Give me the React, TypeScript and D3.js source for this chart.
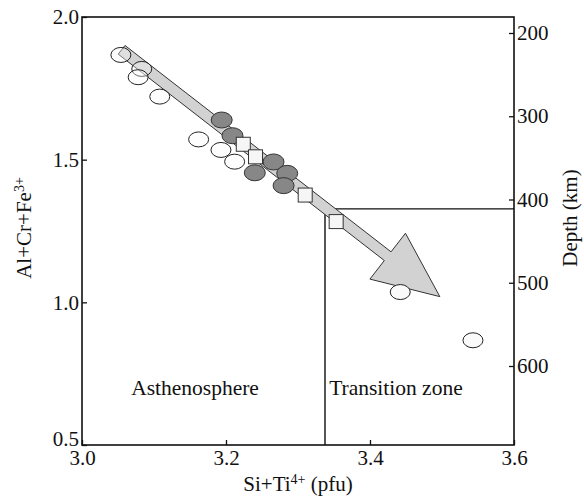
import React, { useEffect, useRef } from 'react'
import * as d3 from 'd3'

// values
const xTicks = [3.0, 3.2, 3.4, 3.6]
const yTicks = [0.5, 1.0, 1.5, 2.0]
const depthTicks = [200, 300, 400, 500, 600]

const openSi = [3.054, 3.083, 3.078, 3.108, 3.162, 3.193, 3.212, 3.442, 3.543]
const openAl = [1.867, 1.818, 1.789, 1.721, 1.571, 1.534, 1.493, 1.036, 0.867]

const graySi = [3.194, 3.209, 3.266, 3.240, 3.285, 3.280]
const grayAl = [1.639, 1.584, 1.492, 1.454, 1.452, 1.409]

const squareSi = [3.224, 3.241, 3.310, 3.353]
const squareAl = [1.554, 1.510, 1.376, 1.283]

// trend arrow, start and tip
const arrowSi = [3.055, 3.497]
const arrowAl = [1.885, 1.02]

// 410 km boundary
const boundarySi = 3.3375
const boundaryDepth = 410

export default function App() {
  const ref = useRef(null)

  useEffect(() => {
    document.body.style.margin = '0'
    const width = 584
    const height = 500
    const margin = { top: 17, right: 70, bottom: 55, left: 82 }
    const font = '"Liberation Serif", "Times New Roman", serif'

    const root = d3.select(ref.current)
    root.selectAll('*').remove()
    const svg = root.append('svg')
      .attr('width', width)
      .attr('height', height)
      .style('display', 'block')

    const x = d3.scaleLinear().domain([3.0, 3.6]).range([margin.left, width - margin.right])
    const y = d3.scaleLinear().domain([0.5, 2.0]).range([height - margin.bottom, margin.top])
    const depth = d3.scaleLinear().domain([200, 600]).range([33, 366])

    const styleAxis = g => {
      g.select('.domain').remove()
      g.attr('font-family', font).attr('font-size', 21)
      g.selectAll('.tick line').attr('stroke', '#111').attr('stroke-width', 1.3)
      g.selectAll('.tick text').attr('fill', '#111')
    }

    // boundary lines
    svg.append('path')
      .attr('d', `M${x(boundarySi)},${y(0.5)}V${depth(boundaryDepth) + 1}H${x(3.6)}`)
      .attr('fill', 'none')
      .attr('stroke', '#111')
      .attr('stroke-width', 1.4)

    // arrow
    const p0 = [x(arrowSi[0]), y(arrowAl[0])]
    const p1 = [x(arrowSi[1]), y(arrowAl[1])]
    const dx = p1[0] - p0[0], dy = p1[1] - p0[1]
    const len = Math.hypot(dx, dy)
    const ux = dx / len, uy = dy / len
    const nx = -uy, ny = ux
    const shaft = 5.5, head = 29, headLen = 66
    const bx = p1[0] - ux * headLen, by = p1[1] - uy * headLen
    const pts = [
      [p0[0] + nx * shaft, p0[1] + ny * shaft],
      [bx + nx * shaft, by + ny * shaft],
      [bx + nx * head, by + ny * head],
      p1,
      [bx - nx * head, by - ny * head],
      [bx - nx * shaft, by - ny * shaft],
      [p0[0] - nx * shaft, p0[1] - ny * shaft],
    ]
    svg.append('path')
      .attr('d', d3.line()(pts) + 'Z')
      .attr('fill', '#d2d2d2')
      .attr('stroke', '#333')
      .attr('stroke-width', 1)

    // markers
    svg.append('g')
      .selectAll('ellipse')
      .data(graySi)
      .join('ellipse')
      .attr('cx', d => x(d))
      .attr('cy', (d, i) => y(grayAl[i]))
      .attr('rx', 10.5)
      .attr('ry', 8)
      .attr('fill', '#878787')
      .attr('stroke', '#333')
      .attr('stroke-width', 1)

    svg.append('g')
      .selectAll('rect')
      .data(squareSi)
      .join('rect')
      .attr('x', d => x(d) - 7)
      .attr('y', (d, i) => y(squareAl[i]) - 7)
      .attr('width', 14)
      .attr('height', 14)
      .attr('fill', '#f6f6f6')
      .attr('stroke', '#333')
      .attr('stroke-width', 1)

    svg.append('g')
      .selectAll('ellipse')
      .data(openSi)
      .join('ellipse')
      .attr('cx', d => x(d))
      .attr('cy', (d, i) => y(openAl[i]))
      .attr('rx', 10)
      .attr('ry', 7.5)
      .attr('fill', '#fafafa')
      .attr('fill-opacity', (d, i) => (openAl[i] > 1.2 ? 0.35 : 1))
      .attr('stroke', '#222')
      .attr('stroke-width', 1)

    // frame
    svg.append('rect')
      .attr('x', x(3.0))
      .attr('y', y(2.0))
      .attr('width', x(3.6) - x(3.0))
      .attr('height', y(0.5) - y(2.0))
      .attr('fill', 'none')
      .attr('stroke', '#111')
      .attr('stroke-width', 1.6)

    // axes
    svg.append('g')
      .attr('transform', `translate(${x(3.0)},0)`)
      .call(d3.axisLeft(y).tickValues(yTicks).tickSize(-5).tickPadding(3).tickFormat(d3.format('.1f')))
      .call(styleAxis)
      .call(g => g.selectAll('.tick text').filter(d => d === 0.5).attr('y', -6))

    svg.append('g')
      .attr('transform', `translate(0,${y(0.5)})`)
      .call(d3.axisBottom(x).tickValues(xTicks).tickSize(-5).tickPadding(5).tickFormat(d3.format('.1f')))
      .call(styleAxis)

    svg.append('g')
      .attr('transform', `translate(${x(3.6)},0)`)
      .call(d3.axisRight(depth).tickValues(depthTicks).tickSize(-5).tickPadding(3))
      .call(styleAxis)

    // region labels
    const labels = svg.append('g')
      .attr('font-family', font)
      .attr('font-size', 21.5)
      .attr('fill', '#111')
      .attr('text-anchor', 'middle')
    labels.append('text').attr('x', x(3.157)).attr('y', y(0.675)).text('Asthenosphere')
    labels.append('text').attr('x', x(3.436)).attr('y', y(0.675)).text('Transition zone')

    // axis titles
    const xt = svg.append('text')
      .attr('x', 298)
      .attr('y', 491)
      .attr('text-anchor', 'middle')
      .attr('font-family', font)
      .attr('font-size', 21)
      .attr('fill', '#111')
    xt.append('tspan').text('Si+Ti')
    xt.append('tspan').attr('dy', -7).attr('font-size', 14).text('4+')
    xt.append('tspan').attr('dy', 7).text(' (pfu)')

    const yt = svg.append('text')
      .attr('transform', 'translate(31,228) rotate(-90)')
      .attr('text-anchor', 'middle')
      .attr('font-family', font)
      .attr('font-size', 21)
      .attr('fill', '#111')
    yt.append('tspan').text('Al+Cr+Fe')
    yt.append('tspan').attr('dy', -7).attr('font-size', 14).text('3+')

    svg.append('text')
      .attr('transform', 'translate(577,218) rotate(-90)')
      .attr('text-anchor', 'middle')
      .attr('font-family', font)
      .attr('font-size', 21)
      .attr('fill', '#111')
      .text('Depth (km)')
  }, [])

  return <div ref={ref}></div>
}
